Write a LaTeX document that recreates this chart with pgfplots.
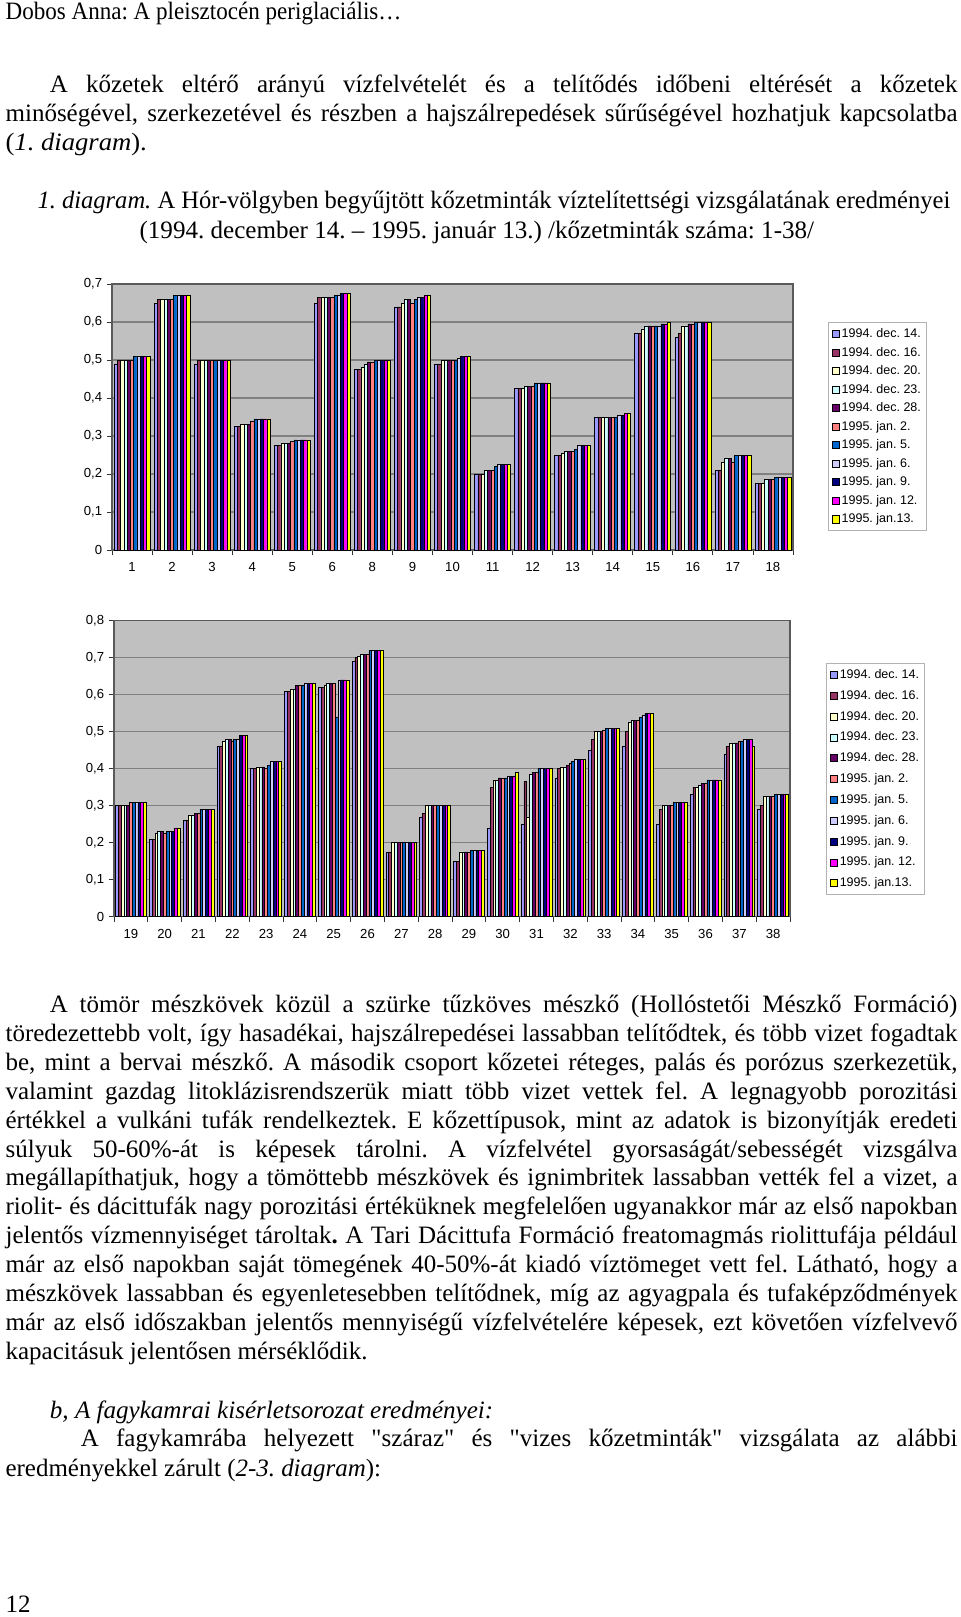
\documentclass[border=0pt]{standalone}
\usepackage{fontspec}
\setmainfont{Liberation Serif}
\setsansfont{Liberation Sans}
\newfontfamily\qf{Liberation Serif}
\usepackage{graphicx}
\usepackage{pgfplots}
\usepackage{pgfplotstable}
\pgfplotsset{compat=1.18}
\frenchspacing

\definecolor{c1}{HTML}{9999FF}
\definecolor{c2}{HTML}{993366}
\definecolor{c3}{HTML}{FFFFCC}
\definecolor{c4}{HTML}{CCFFFF}
\definecolor{c5}{HTML}{660066}
\definecolor{c6}{HTML}{FF8080}
\definecolor{c7}{HTML}{0066CC}
\definecolor{c8}{HTML}{CCCCFF}
\definecolor{c9}{HTML}{000080}
\definecolor{c10}{HTML}{FF00FF}
\definecolor{c11}{HTML}{FFFF00}
\definecolor{plotgray}{HTML}{C0C0C0}
\definecolor{gridgray}{HTML}{808080}

\newlength\natw
\newcommand\jl[2]{\settowidth\natw{#2}\ifdim\natw>#1\relax\resizebox{#1}{\height}{#2}\else\makebox[#1][s]{#2}\fi}
\newcommand\fl[2]{\resizebox{#1}{\height}{#2}}
\newcommand\q{{\qf"}}

\pgfplotstableread{
x s1 s2 s3 s4 s5 s6 s7 s8 s9 s10 s11
0 0.49 0.50 0.50 0.50 0.50 0.50 0.51 0.51 0.51 0.51 0.51
1 0.65 0.66 0.66 0.66 0.66 0.66 0.67 0.67 0.67 0.67 0.67
2 0.49 0.50 0.50 0.50 0.50 0.50 0.50 0.50 0.50 0.50 0.50
3 0.325 0.325 0.33 0.33 0.33 0.34 0.345 0.345 0.345 0.345 0.345
4 0.275 0.275 0.28 0.28 0.28 0.285 0.29 0.29 0.29 0.29 0.29
5 0.65 0.665 0.665 0.665 0.665 0.665 0.67 0.67 0.675 0.675 0.675
6 0.475 0.475 0.48 0.49 0.495 0.495 0.50 0.50 0.50 0.50 0.50
7 0.64 0.64 0.65 0.66 0.66 0.65 0.66 0.665 0.665 0.67 0.67
8 0.49 0.49 0.50 0.50 0.50 0.50 0.50 0.505 0.51 0.51 0.51
9 0.20 0.20 0.20 0.21 0.21 0.21 0.22 0.225 0.225 0.225 0.225
10 0.425 0.425 0.425 0.43 0.43 0.43 0.44 0.44 0.44 0.44 0.44
11 0.25 0.25 0.255 0.26 0.26 0.26 0.265 0.275 0.275 0.275 0.275
12 0.35 0.35 0.35 0.35 0.35 0.35 0.35 0.355 0.355 0.36 0.36
13 0.57 0.57 0.58 0.59 0.59 0.59 0.59 0.59 0.595 0.595 0.60
14 0.56 0.57 0.59 0.59 0.595 0.595 0.60 0.60 0.60 0.60 0.60
15 0.21 0.21 0.23 0.24 0.24 0.23 0.25 0.25 0.25 0.25 0.25
16 0.175 0.175 0.175 0.185 0.185 0.185 0.19 0.19 0.19 0.19 0.19
}\tA

\pgfplotstableread{
x s1 s2 s3 s4 s5 s6 s7 s8 s9 s10 s11
0 0.30 0.30 0.30 0.30 0.30 0.31 0.31 0.31 0.31 0.31 0.31
1 0.21 0.21 0.225 0.23 0.23 0.225 0.23 0.23 0.23 0.24 0.24
2 0.26 0.26 0.275 0.275 0.28 0.28 0.29 0.29 0.29 0.29 0.29
3 0.46 0.46 0.475 0.48 0.48 0.475 0.48 0.48 0.49 0.49 0.49
4 0.40 0.40 0.405 0.405 0.405 0.40 0.41 0.42 0.42 0.42 0.42
5 0.61 0.61 0.615 0.615 0.625 0.625 0.625 0.63 0.63 0.63 0.63
6 0.62 0.62 0.625 0.63 0.63 0.63 0.54 0.64 0.64 0.64 0.64
7 0.69 0.70 0.705 0.71 0.71 0.71 0.72 0.72 0.72 0.72 0.72
8 0.175 0.175 0.20 0.20 0.20 0.20 0.20 0.20 0.20 0.20 0.20
9 0.27 0.28 0.30 0.30 0.30 0.30 0.30 0.30 0.30 0.30 0.30
10 0.15 0.15 0.175 0.175 0.175 0.175 0.18 0.18 0.18 0.18 0.18
11 0.24 0.35 0.37 0.37 0.375 0.375 0.375 0.38 0.38 0.38 0.39
12 0.25 0.365 0.27 0.385 0.39 0.39 0.40 0.40 0.40 0.40 0.40
13 0.375 0.40 0.405 0.405 0.41 0.415 0.42 0.425 0.425 0.425 0.425
14 0.45 0.48 0.50 0.50 0.50 0.505 0.51 0.51 0.51 0.51 0.51
15 0.46 0.50 0.525 0.53 0.53 0.53 0.54 0.545 0.55 0.55 0.55
16 0.25 0.29 0.30 0.30 0.30 0.30 0.31 0.31 0.31 0.31 0.31
17 0.33 0.35 0.35 0.355 0.36 0.36 0.37 0.37 0.37 0.37 0.37
18 0.44 0.46 0.47 0.47 0.47 0.475 0.475 0.48 0.48 0.48 0.46
19 0.29 0.30 0.325 0.325 0.325 0.325 0.33 0.33 0.33 0.33 0.33
}\tB

\pgfplotsset{pagechart/.style={
  scale only axis, ybar=0pt, enlargelimits=false, ymin=0,
  axis background/.style={fill=plotgray},
  axis line style={draw=gridgray!70!black, line width=0.5pt},
  ymajorgrids, major grid style={draw=gridgray, line width=0.5pt},
  tick align=outside, xtick pos=bottom, ytick pos=left,
  major tick length=2.5pt,
  tick style={draw=black!80, line width=0.4pt},
  extra x tick style={major tick length=0pt, xmajorgrids=false,
    xticklabel style={yshift=-2.5pt}},
  tick label style={font=\sffamily\fontsize{6.3}{7.3}\selectfont},
  yticklabel style={xshift=1.3pt},
  /pgf/number format/assume math mode=true,
  every axis plot/.append style={draw=black, line width=0.3pt},
  legend cell align=left,
  legend image code/.code={\draw[##1,draw=black,line width=0.3pt] (0pt,-1.7pt) rectangle (3.4pt,1.7pt);},
  legend style={draw=gray!60, fill=white, font=\sffamily\fontsize{6}{7}\selectfont,
    anchor=north west, inner sep=2pt,
    nodes={inner sep=0.8pt, text height=4.4pt, text depth=1pt}},
}}

\begin{document}
\begin{tikzpicture}
\fill[white] (0,0) rectangle (460.8pt,-776.16pt);
\useasboundingbox (0,0) rectangle (460.8pt,-776.16pt);

\begin{scope}[x=0.48pt,y=-0.48pt,every node/.style={anchor=base west,inner sep=0pt,font=\fontsize{12}{14}\selectfont}]
\node at (5.2,19.6) {\fl{190pt}{Dobos Anna: A pleisztocén periglaciális…}};
\node at (49.5,92.8) {\jl{435.6pt}{A kőzetek eltérő arányú vízfelvételét és a telítődés időbeni eltérését a kőzetek}};
\node at (5.2,121.7) {\jl{456.9pt}{minőségével, szerkezetével és részben a hajszálrepedések sűrűségével hozhatjuk kapcsolatba}};
\node at (5.2,150.6) {\fl{67.8pt}{(\textit{1. diagram}).}};
\node at (37.1,208.3) {\jl{438.1pt}{\textit{1. diagram.} A Hór-völgyben begyűjtött kőzetminták víztelítettségi vizsgálatának eredményei}};
\node at (139.2,238.2) {\fl{323.7pt}{(1994. december 14. – 1995. január 13.) /kőzetminták száma: 1-38/}};

\node at (49.5,1012.7) {\jl{435.6pt}{A tömör mészkövek közül a szürke tűzköves mészkő (Hollóstetői Mészkő Formáció)}};
\node at (5.2,1041.6) {\jl{456.9pt}{töredezettebb volt, így hasadékai, hajszálrepedései lassabban telítődtek, és több vizet fogadtak}};
\node at (5.2,1070.5) {\jl{456.9pt}{be, mint a bervai mészkő. A második csoport kőzetei réteges, palás és porózus szerkezetük,}};
\node at (5.2,1099.3) {\jl{456.9pt}{valamint gazdag litoklázisrendszerük miatt több vizet vettek fel. A legnagyobb porozitási}};
\node at (5.2,1128.2) {\jl{456.9pt}{értékkel a vulkáni tufák rendelkeztek. E kőzettípusok, mint az adatok is bizonyítják eredeti}};
\node at (5.2,1157.1) {\jl{456.9pt}{súlyuk 50-60\%-át is képesek tárolni. A vízfelvétel gyorsaságát/sebességét vizsgálva}};
\node at (5.2,1185.9) {\jl{456.9pt}{megállapíthatjuk, hogy a tömöttebb mészkövek és ignimbritek lassabban vették fel a vizet, a}};
\node at (5.2,1214.8) {\jl{456.9pt}{riolit- és dácittufák nagy porozitási értéküknek megfelelően ugyanakkor már az első napokban}};
\node at (5.2,1243.7) {\jl{456.9pt}{jelentős vízmennyiséget tároltak\textbf{.} A Tari Dácittufa Formáció freatomagmás riolittufája például}};
\node at (5.2,1272.6) {\jl{456.9pt}{már az első napokban saját tömegének 40-50\%-át kiadó víztömeget vett fel. Látható, hogy a}};
\node at (5.2,1301.5) {\jl{456.9pt}{mészkövek lassabban és egyenletesebben telítődnek, míg az agyagpala és tufaképződmények}};
\node at (5.2,1330.3) {\jl{456.9pt}{már az első időszakban jelentős mennyiségű vízfelvételére képesek, ezt követően vízfelvevő}};
\node at (5.2,1359.2) {\fl{173.7pt}{kapacitásuk jelentősen mérséklődik.}};
\node at (49.5,1418.0) {\fl{212.8pt}{\textit{b, A fagykamrai kisérletsorozat eredményei:}}};
\node at (80.4,1446.9) {\jl{420.8pt}{A fagykamrába helyezett \q száraz\q{} és \q vizes kőzetminták\q{} vizsgálata az alábbi}};
\node at (5.2,1476.8) {\fl{180.2pt}{eredményekkel zárult (\textit{2-3. diagram}):}};
\node at (5.2,1612) {12};
\end{scope}

\begin{axis}[pagechart,
  at={(53.76pt,-264pt)}, width=326.88pt, height=127.68pt,
  bar width=1.57pt,
  xmin=-0.5, xmax=16.5, ymax=0.7,
  xtick={-0.5,0.5,...,16.5},
  xticklabels={},
  extra x ticks={0,...,16},
  extra x tick labels={1,2,3,4,5,6,8,9,10,11,12,13,14,15,16,17,18},
  ytick={0,0.1,0.2,0.3,0.4,0.5,0.6,0.7},
  yticklabels={0,{0,1},{0,2},{0,3},{0,4},{0,5},{0,6},{0,7}},
  legend style={at={(1.051,0.857)}, row sep=1.9pt},
]
\pgfplotsinvokeforeach{1,...,11}{\addplot[fill=c#1] table[x=x,y=s#1]{\tA};}
\legend{1994. dec. 14.,1994. dec. 16.,1994. dec. 20.,1994. dec. 23.,1994. dec. 28.,1995. jan. 2.,1995. jan. 5.,1995. jan. 6.,1995. jan. 9.,1995. jan. 12.,1995. jan.13.}
\node[font=\sffamily\bfseries\fontsize{6.3}{7.3}\selectfont] at (rel axis cs:-0.057,0.496) {kg};
\end{axis}

\begin{axis}[pagechart,
  at={(54.72pt,-440.02pt)}, width=324.48pt, height=142.08pt,
  bar width=1.35pt,
  xmin=-0.5, xmax=19.5, ymax=0.8,
  xtick={-0.5,0.5,...,19.5},
  xticklabels={},
  extra x ticks={0,...,19},
  extra x tick labels={19,20,21,22,23,24,25,26,27,28,29,30,31,32,33,34,35,36,37,38},
  ytick={0,0.1,0.2,0.3,0.4,0.5,0.6,0.7,0.8},
  yticklabels={0,{0,1},{0,2},{0,3},{0,4},{0,5},{0,6},{0,7},{0,8}},
  legend style={at={(1.053,0.857)}, row sep=3pt},
]
\pgfplotsinvokeforeach{1,...,11}{\addplot[fill=c#1] table[x=x,y=s#1]{\tB};}
\legend{1994. dec. 14.,1994. dec. 16.,1994. dec. 20.,1994. dec. 23.,1994. dec. 28.,1995. jan. 2.,1995. jan. 5.,1995. jan. 6.,1995. jan. 9.,1995. jan. 12.,1995. jan.13.}
\node[font=\sffamily\bfseries\fontsize{6.3}{7.3}\selectfont] at (rel axis cs:-0.055,0.496) {kg};
\end{axis}
\end{tikzpicture}
\end{document}
